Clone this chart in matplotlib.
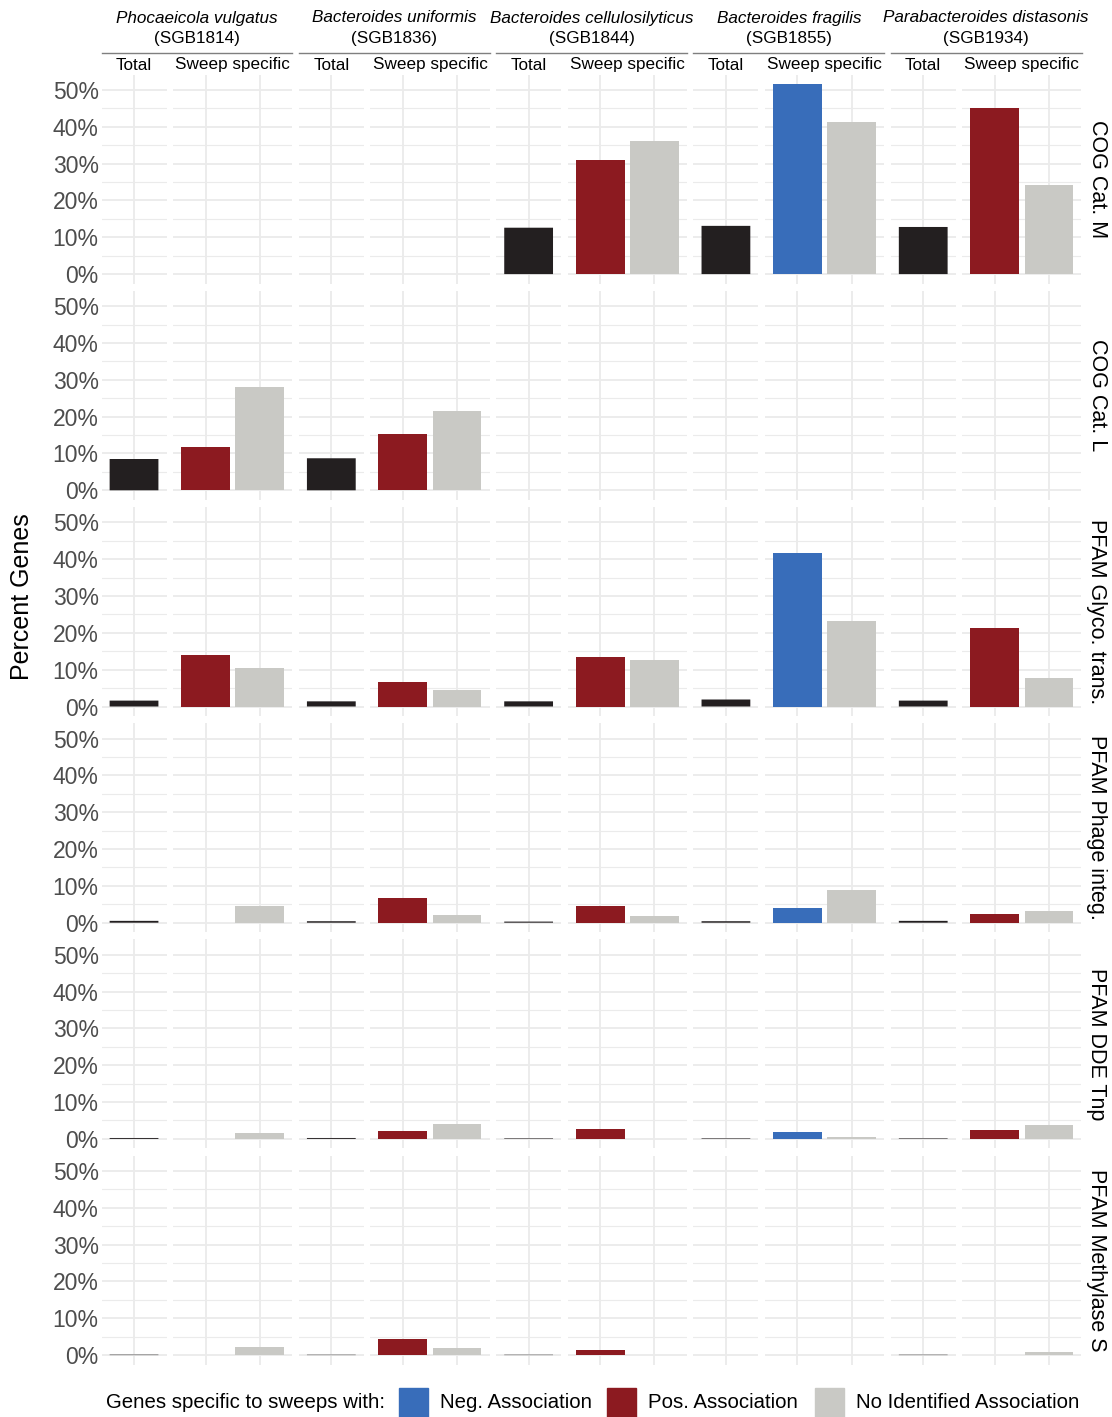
import matplotlib
matplotlib.use("Agg")
import matplotlib.pyplot as plt
from matplotlib.patches import Rectangle
import numpy as np

plt.rcParams['font.family'] = ['Liberation Sans', 'DejaVu Sans']

nan = np.nan

species = ["Phocaeicola vulgatus", "Bacteroides uniformis", "Bacteroides cellulosilyticus",
           "Bacteroides fragilis", "Parabacteroides distasonis"]
sgb = ["SGB1814", "SGB1836", "SGB1844", "SGB1855", "SGB1934"]
# direction of the association for the sweep-specific genes of each species
assoc_dir = ["pos", "pos", "pos", "neg", "pos"]

categories = ["COG Cat. M", "COG Cat. L", "PFAM Glyco. trans.", "PFAM Phage integ.",
              "PFAM DDE Tnp", "PFAM Methylase S"]

# percent of genes, rows = categories, cols = species
pct_total = [
    [nan, nan, 12.6, 13.1, 12.8],
    [8.5, 8.7, nan, nan, nan],
    [1.6, 1.4, 1.4, 1.9, 1.6],
    [0.5, 0.4, 0.3, 0.4, 0.5],
    [0.25, 0.25, 0.15, 0.15, 0.15],
    [0.12, 0.1, 0.1, nan, 0.1],
]
pct_assoc = [
    [nan, nan, 30.9, 51.6, 45.1],
    [11.7, 15.3, nan, nan, nan],
    [13.9, 6.6, 13.4, 41.8, 21.3],
    [nan, 6.7, 4.4, 4.0, 2.3],
    [nan, 2.1, 2.8, 1.8, 2.3],
    [nan, 4.5, 1.5, nan, nan],
]
pct_noassoc = [
    [nan, nan, 36.1, 41.3, 24.3],
    [28.1, 21.6, nan, nan, nan],
    [10.4, 4.6, 12.6, 23.2, 7.7],
    [4.5, 2.0, 1.9, 8.9, 3.1],
    [1.6, 4.1, nan, 0.5, 3.9],
    [2.3, 1.8, nan, nan, 0.8],
]

col_total = "#231F20"
col_neg = "#386DBA"
col_pos = "#8C1A20"
col_none = "#C9C9C5"
grid_col = "#EBEBEB"

W, H = 1112, 1417
fig = plt.figure(figsize=(W / 100, H / 100), dpi=100)

def fx(px):
    return px / W

def fy(px):
    return 1 - px / H

# panel geometry in pixels
left_px, right_px = 101.5, 1081.5
gap = 6.5
unit = (right_px - left_px - 9 * gap) / 17.0
w_total, w_sweep = 1.2 * unit, 2.2 * unit
top_px, panel_h, row_gap = 74.6, 209.0, 7.2

ymax = np.nanmax([np.nanmax(pct_total), np.nanmax(pct_assoc), np.nanmax(pct_noassoc)])
ylo, yhi = -0.05 * ymax, 1.05 * ymax

def style_axis(ax, ncat, show_y):
    ax.set_xlim(0.4, ncat + 0.6)
    ax.set_ylim(ylo, yhi)
    ax.set_yticks(np.arange(0, 51, 10))
    ax.set_yticks(np.arange(5, 50, 10), minor=True)
    ax.set_xticks(np.arange(1, ncat + 1))
    ax.grid(True, which='major', color=grid_col, lw=1.3)
    ax.grid(True, which='minor', axis='y', color=grid_col, lw=0.8)
    ax.set_axisbelow(True)
    for s in ax.spines.values():
        s.set_visible(False)
    ax.tick_params(which='both', length=0, labelbottom=False)
    if show_y:
        ax.set_yticklabels([f"{v}%" for v in range(0, 51, 10)])
        ax.tick_params(axis='y', labelsize=16.5, labelcolor="#4D4D4D", pad=2)
    else:
        ax.tick_params(axis='y', labelleft=False)

for r, cat in enumerate(categories):
    y0 = top_px + r * (panel_h + row_gap)
    x = left_px
    for s in range(len(species)):
        # Total panel
        ax = fig.add_axes([fx(x), fy(y0 + panel_h), fx(w_total), panel_h / H])
        style_axis(ax, 1, s == 0)
        v = pct_total[r][s]
        if not np.isnan(v):
            ax.bar([1], [v], width=0.9, color=col_total, snap=False)
        if r == 0:
            fig.text(fx(x + w_total / 2), fy(65), "Total", ha='center', va='center', fontsize=12.3)
        block_left = x
        x += w_total + gap

        # Sweep specific panel
        ax = fig.add_axes([fx(x), fy(y0 + panel_h), fx(w_sweep), panel_h / H])
        style_axis(ax, 2, False)
        va = pct_assoc[r][s]
        vn = pct_noassoc[r][s]
        if not np.isnan(va):
            ax.bar([1], [va], width=0.9, color=col_neg if assoc_dir[s] == "neg" else col_pos)
        if not np.isnan(vn):
            ax.bar([2], [vn], width=0.9, color=col_none)
        if r == 0:
            fig.text(fx(x + w_sweep / 2), fy(65), "Sweep specific", ha='center', va='center', fontsize=12.3)
            block_right = x + w_sweep
            cx = (block_left + block_right) / 2
            fig.text(fx(cx), fy(18), species[s], ha='center', va='center', fontsize=12.3, style='italic')
            fig.text(fx(cx), fy(39), f"({sgb[s]})", ha='center', va='center', fontsize=12.3)
            fig.add_artist(plt.Line2D([fx(block_left), fx(block_right)], [fy(53), fy(53)],
                                      color="#7F7F7F", lw=1.0))
        x += w_sweep + gap

    # row strip on the right
    fig.text(fx(1097), fy(y0 + panel_h / 2), cat, rotation=270, ha='center', va='center', fontsize=15.5)

fig.text(fx(22), fy(597), "Percent Genes", rotation=90, ha='center', va='center', fontsize=18)

# legend along the bottom
leg_y = 1402
fig.text(fx(106), fy(leg_y), "Genes specific to sweeps with:", ha='left', va='center', fontsize=14.7)
legend_items = [(col_neg, "Neg. Association", 399), (col_pos, "Pos. Association", 607),
                (col_none, "No Identified Association", 815)]
for col, lab, kx in legend_items:
    fig.add_artist(Rectangle((fx(kx), fy(1417)), fx(29), 29 / H, color=col, transform=fig.transFigure))
    fig.text(fx(kx + 41), fy(leg_y), lab, ha='left', va='center', fontsize=14.7)

fig.savefig("out.png", dpi=100)
